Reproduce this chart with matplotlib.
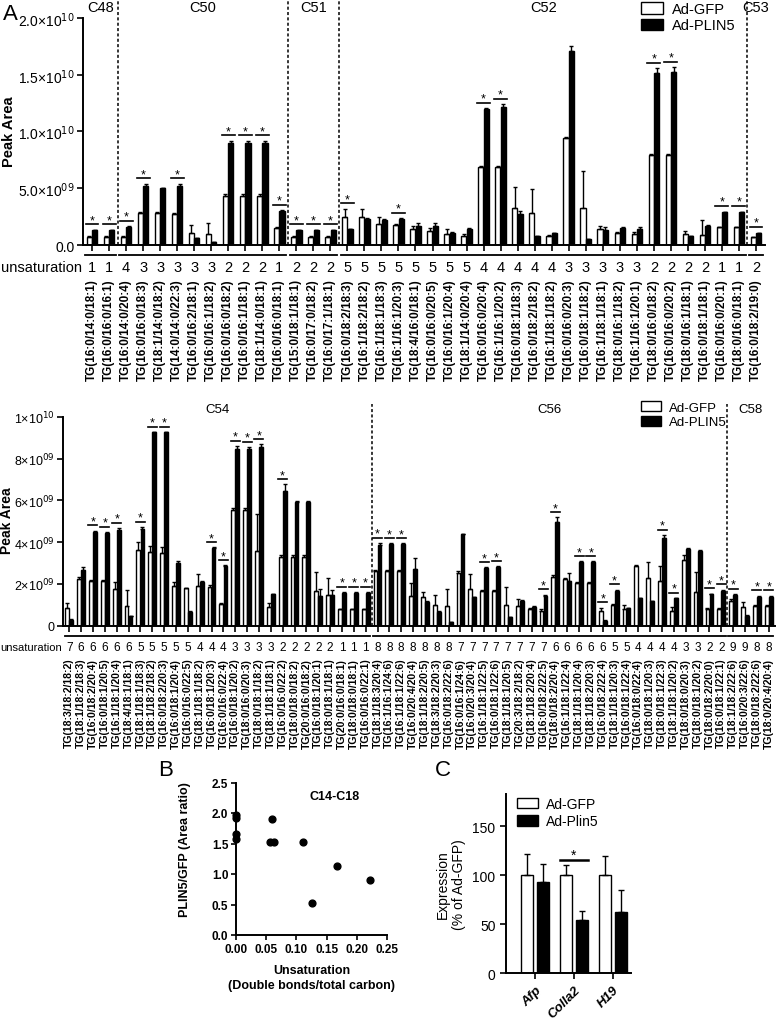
import numpy as np
import matplotlib
matplotlib.use("Agg")
import matplotlib.pyplot as plt
import matplotlib.transforms as mtransforms
from matplotlib.patches import Patch

plt.rcParams['font.family'] = ['Liberation Sans', 'DejaVu Sans']

# ---------------- panel A, upper part (values in 1e9 units) ----------------
top_groups = ["C48", "C50", "C51", "C52", "C53"]
top_sizes = [2, 10, 3, 24, 1]
top_labels = [
    "TG(16:0/14:0/18:1)", "TG(16:0/16:0/16:1)",
    "TG(16:0/14:0/20:4)", "TG(16:0/16:0/18:3)", "TG(18:1/14:0/18:2)", "TG(14:0/14:0/22:3)",
    "TG(16:0/16:2/18:1)", "TG(16:0/16:1/18:2)", "TG(16:0/16:0/18:2)", "TG(16:0/16:1/18:1)",
    "TG(18:1/14:0/18:1)", "TG(16:0/16:0/18:1)",
    "TG(15:0/18:1/18:1)", "TG(16:0/17:0/18:2)", "TG(16:0/17:1/18:1)",
    "TG(16:0/18:2/18:3)", "TG(16:1/18:2/18:2)", "TG(16:1/18:1/18:3)", "TG(16:1/16:1/20:3)",
    "TG(18:4/16:0/18:1)", "TG(16:0/16:0/20:5)", "TG(16:0/16:1/20:4)", "TG(18:1/14:0/20:4)",
    "TG(16:0/16:0/20:4)", "TG(16:1/16:1/20:2)", "TG(16:0/18:1/18:3)", "TG(16:0/18:2/18:2)",
    "TG(16:1/18:1/18:2)", "TG(16:0/16:0/20:3)", "TG(16:0/18:1/18:2)", "TG(16:1/18:1/18:1)",
    "TG(18:0/16:1/18:2)", "TG(16:1/16:1/20:1)", "TG(18:0/16:0/18:2)", "TG(16:0/16:0/20:2)",
    "TG(18:0/16:1/18:1)", "TG(16:0/18:1/18:1)", "TG(16:0/16:0/20:1)", "TG(18:0/16:0/18:1)",
    "TG(16:0/18:2/19:0)"]
top_unsat = [1, 1, 4, 3, 3, 3, 3, 3, 2, 2, 2, 1, 2, 2, 2, 5, 5, 5, 5, 5, 5, 5, 5,
             4, 4, 4, 4, 4, 3, 3, 3, 3, 3, 2, 2, 2, 2, 1, 1, 2]
top_gfp = [0.7, 0.7, 0.7, 2.8, 2.8, 2.7, 1.1, 1.0, 4.35, 4.35, 4.35, 1.5, 0.7, 0.7, 0.7,
           2.5, 2.5, 1.85, 1.75, 1.4, 1.2, 0.95, 0.8, 6.9, 6.9, 3.3, 2.8, 0.75, 9.4, 3.3,
           1.4, 1.1, 1.0, 7.9, 7.9, 1.0, 0.88, 1.55, 1.55, 0.68]
top_gfp_err = [0.05, 0.05, 0.05, 0.1, 0.1, 0.1, 0.7, 0.9, 0.1, 0.1, 0.1, 0.05, 0.05, 0.05, 0.05,
               0.7, 0.7, 0.6, 0.1, 0.3, 0.3, 0.45, 0.2, 0.1, 0.1, 1.8, 2.1, 0.1, 0.1, 3.2,
               0.3, 0.05, 0.15, 0.1, 0.1, 0.2, 1.3, 0.05, 0.05, 0.05]
top_plin = [1.3, 1.3, 1.6, 5.2, 5.0, 5.2, 0.6, 0.25, 9.0, 9.0, 9.0, 3.0, 1.3, 1.3, 1.3,
            1.4, 2.3, 2.2, 2.3, 1.65, 1.7, 1.1, 1.4, 12.0, 12.2, 2.7, 0.75, 1.05, 17.1, 0.5,
            1.35, 1.5, 1.4, 15.15, 15.25, 0.75, 1.7, 2.9, 2.9, 1.05]
top_plin_err = [0.05, 0.05, 0.05, 0.2, 0.05, 0.2, 0.05, 0.05, 0.2, 0.2, 0.2, 0.05, 0.05, 0.05, 0.05,
                0.05, 0.05, 0.1, 0.05, 0.3, 0.2, 0.05, 0.1, 0.05, 0.2, 0.3, 0.05, 0.05, 0.4, 0.05,
                0.2, 0.05, 0.2, 0.4, 0.4, 0.05, 0.05, 0.05, 0.05, 0.05]
top_stars = [0, 1, 2, 3, 5, 8, 9, 10, 11, 12, 13, 14, 15, 18, 23, 24, 33, 34, 37, 38, 39]

# ---------------- panel A, lower part ----------------
bot_groups = ["C54", "C56", "C58"]
bot_sizes = [26, 30, 4]
bot_labels = [
    "TG(18:3/18:2/18:2)", "TG(18:1/18:2/18:3)", "TG(16:0/18:2/20:4)", "TG(16:0/18:1/20:5)",
    "TG(16:1/18:1/20:4)", "TG(18:4/18:1/18:1)", "TG(18:1/18:1/18:3)", "TG(18:1/18:2/18:2)",
    "TG(16:0/18:2/20:3)", "TG(16:0/18:1/20:4)", "TG(16:0/16:0/22:5)", "TG(18:1/18:1/18:2)",
    "TG(16:0/18:1/20:3)", "TG(16:0/16:0/22:4)", "TG(16:0/18:1/20:2)", "TG(18:0/16:0/20:3)",
    "TG(18:0/18:1/18:2)", "TG(18:1/18:1/18:1)", "TG(16:0/16:0/22:2)", "TG(18:0/18:0/18:2)",
    "TG(20:0/16:0/18:2)", "TG(16:0/18:1/20:1)", "TG(18:0/18:1/18:1)", "TG(20:0/16:0/18:1)",
    "TG(18:0/18:0/18:1)", "TG(16:0/16:0/22:1)",
    "TG(18:1/18:3/20:4)", "TG(16:1/16:1/24:6)", "TG(16:1/18:1/22:6)", "TG(16:0/20:4/20:4)",
    "TG(18:1/18:2/20:5)", "TG(18:3/18:2/20:3)", "TG(16:0/18:2/22:6)", "TG(16:0/16:1/24:6)",
    "TG(16:0/20:3/20:4)", "TG(16:1/18:1/22:5)", "TG(16:0/18:1/22:6)", "TG(18:1/18:1/20:5)",
    "TG(20:3/18:2/18:2)", "TG(18:1/18:2/20:4)", "TG(16:0/18:2/22:5)", "TG(18:0/18:2/20:4)",
    "TG(16:1/18:1/22:4)", "TG(18:1/18:1/20:4)", "TG(18:1/18:2/20:3)", "TG(16:0/18:2/22:4)",
    "TG(18:1/18:1/20:3)", "TG(16:0/18:1/22:4)", "TG(16:0/18:0/22:4)", "TG(18:0/18:1/20:3)",
    "TG(18:0/18:1/22:3)", "TG(18:1/18:1/20:2)", "TG(18:0/18:0/20:3)", "TG(18:0/18:1/20:2)",
    "TG(18:0/18:2/20:0)", "TG(16:0/18:1/22:1)",
    "TG(18:1/18:2/22:6)", "TG(16:0/20:3/22:6)", "TG(18:0/18:2/22:6)", "TG(18:0/20:4/20:4)"]
bot_unsat = [7, 6, 6, 6, 6, 6, 5, 5, 5, 5, 5, 4, 4, 4, 3, 3, 3, 3, 2, 2, 2, 2, 2, 1, 1, 1,
             8, 8, 8, 8, 8, 8, 8, 7, 7, 7, 7, 7, 7, 7, 7, 6, 6, 6, 6, 6, 5, 5, 4, 4, 4, 4, 3, 3, 2, 2,
             9, 9, 8, 8]
bot_gfp = [0.84, 2.24, 2.13, 2.12, 1.76, 0.93, 3.64, 3.55, 3.48, 1.89, 1.79, 1.89, 1.86, 1.04,
           5.55, 5.55, 3.56, 0.88, 3.28, 3.28, 3.28, 1.68, 1.47, 0.8, 0.8, 0.8,
           2.64, 2.64, 2.64, 1.44, 1.36, 1.0, 0.93, 2.53, 1.76, 1.65, 1.65, 1.0, 0.93, 0.8, 0.72,
           2.35, 2.24, 2.05, 2.05, 0.72, 1.0, 0.8, 2.85, 2.27, 2.16, 0.69, 3.15, 1.6, 0.8, 0.8,
           1.2, 0.88, 0.96, 0.96]
bot_gfp_err = [0.25, 0.1, 0.05, 0.05, 0.32, 0.77, 0.35, 0.25, 0.3, 0.2, 0.02, 0.6, 0.1, 0.05,
               0.1, 0.1, 1.8, 0.2, 0.1, 0.1, 0.1, 0.87, 0.83, 0.02, 0.02, 0.02,
               0.05, 0.05, 0.05, 0.6, 0.27, 0.47, 0.83, 0.1, 0.72, 0.05, 0.05, 0.84, 0.35, 0.05,
               0.1, 0.1, 0.05, 0.05, 0.05, 0.15, 0.05, 0.2, 0.05, 0.8, 0.72, 0.2, 0.24, 0.95,
               0.05, 0.05, 0.1, 0.25, 0.05, 0.05]
bot_plin = [0.29, 2.67, 4.5, 4.44, 4.58, 0.45, 4.63, 9.26, 9.26, 2.99, 0.68, 2.11, 3.7, 2.88,
            8.46, 8.46, 8.54, 1.52, 6.47, 5.94, 5.94, 1.44, 1.47, 1.57, 1.57, 1.57,
            3.86, 3.9, 3.9, 2.72, 1.15, 0.68, 0.17, 4.39, 1.36, 2.75, 2.8, 0.41, 1.2, 0.91, 1.44,
            4.98, 2.16, 3.04, 3.04, 0.24, 1.68, 0.84, 1.33, 1.17, 4.19, 1.31, 3.67, 3.59, 1.52, 1.68,
            1.47, 0.48, 1.39, 1.39]
bot_plin_err = [0.02, 0.15, 0.05, 0.05, 0.1, 0.02, 0.1, 0.02, 0.02, 0.12, 0.02, 0.05, 0.05, 0.02,
                0.15, 0.1, 0.15, 0.02, 0.3, 0.02, 0.02, 0.32, 0.25, 0.05, 0.05, 0.05,
                0.1, 0.05, 0.05, 0.54, 0.02, 0.02, 0.02, 0.02, 0.02, 0.05, 0.05, 0.02, 0.02, 0.02,
                0.05, 0.21, 0.36, 0.05, 0.05, 0.02, 0.05, 0.02, 0.02, 0.02, 0.15, 0.02, 0.05, 0.05,
                0.02, 0.05, 0.05, 0.02, 0.05, 0.05]
bot_stars = [2, 3, 4, 6, 7, 8, 12, 13, 14, 15, 16, 18, 23, 24, 25, 26, 27, 28, 35, 36,
             40, 41, 43, 44, 45, 46, 50, 51, 54, 55, 56, 58, 59]

# ---------------- panel B ----------------
b_unsat = [0.0, 0.0, 0.0, 0.0, 0.0588, 0.0556, 0.0625, 0.111, 0.125, 0.167, 0.222]
b_ratio = [1.97, 1.92, 1.65, 1.58, 1.90, 1.52, 1.53, 1.52, 0.53, 1.13, 0.90]

# ---------------- panel C ----------------
c_genes = ["Afp", "Colla2", "H19"]
c_gfp = [100, 100, 100]
c_gfp_err = [21, 10.5, 19]
c_plin = [92.5, 54.4, 62]
c_plin_err = [18.5, 9.2, 22.7]

W, H = 777, 1020
fig = plt.figure(figsize=(W / 100, H / 100), dpi=100)


def fx(px):
    return px / W


def fy(py):
    return 1 - py / H


def bar_panel(ax, labels, unsat, gfp, gfp_err, plin, plin_err, stars, groups, sizes,
              width, off, gap, lab_fs, un_fs, pad, un_y, grp_line_y, grp_y, grp_fs, ytick_fs):
    n = len(labels)
    x = np.arange(n)
    g = np.array(gfp) * 1e9
    ge = np.array(gfp_err) * 1e9
    p = np.array(plin) * 1e9
    pe = np.array(plin_err) * 1e9
    ax.bar(x - off, g, width, color='white', edgecolor='black', lw=1.0, zorder=2)
    ax.bar(x + off, p, width, color='black', edgecolor='black', lw=1.0, zorder=2)
    ax.errorbar(x - off, g, yerr=[np.zeros(n), ge], fmt='none', ecolor='black',
                elinewidth=1, capsize=1.5, capthick=1, zorder=3)
    ax.errorbar(x + off, p, yerr=[np.zeros(n), pe], fmt='none', ecolor='black',
                elinewidth=1, capsize=1.5, capthick=1, zorder=3)
    for i in stars:
        top = max(g[i] + ge[i], p[i] + pe[i]) + gap
        ax.plot([i - 0.38, i + 0.38], [top, top], color='black', lw=1.2, zorder=3)
        ax.annotate('*', (i, top), xytext=(0, -1.5), textcoords='offset points',
                    ha='center', va='bottom', fontsize=9)

    tr = mtransforms.blended_transform_factory(ax.transData, ax.transAxes)
    start = 0
    for k, (name, size) in enumerate(zip(groups, sizes)):
        end = start + size - 1
        ax.text((start + end) / 2, grp_y, name, transform=tr, ha='center', va='center',
                fontsize=grp_fs)
        ax.plot([start - 0.4, end + 0.4], [grp_line_y, grp_line_y], transform=tr,
                clip_on=False, color='black', lw=1.3)
        if k < len(groups) - 1:
            ax.axvline(end + 0.5, color='black', lw=1.1, ls=(0, (2, 1.5)), zorder=1)
        start = end + 1

    for i, u in enumerate(unsat):
        ax.text(i, un_y, str(u), transform=tr, ha='center', va='center', fontsize=un_fs)

    ax.set_xticks(x)
    ax.set_xticklabels(labels, rotation=90, fontsize=lab_fs, fontweight='bold')
    ax.tick_params(axis='x', length=4, width=1.2, pad=pad)
    ax.tick_params(axis='y', length=4, width=1.2, labelsize=ytick_fs, pad=2)
    ax.set_xlim(-0.53, n - 0.5 + 0.03)
    ax.spines['top'].set_visible(False)
    ax.spines['right'].set_visible(False)
    ax.spines['left'].set_linewidth(1.4)
    ax.spines['bottom'].set_linewidth(1.4)


# ---- A upper ----
axA1 = fig.add_axes([fx(83), fy(246), fx(765 - 83), 246 / H])
bar_panel(axA1, top_labels, top_unsat, top_gfp, top_gfp_err, top_plin, top_plin_err,
          top_stars, top_groups, top_sizes, width=0.3, off=0.16, gap=0.5e9,
          lab_fs=8.5, un_fs=10.5, pad=20, un_y=-22 / 246, grp_line_y=-10 / 246,
          grp_y=1 - 8 / 246, grp_fs=10.5, ytick_fs=10)
axA1.set_ylim(0, 2.167e10)
axA1.spines['left'].set_bounds(0, 2e10)
axA1.set_yticks([0, 5e9, 1e10, 1.5e10, 2e10])
axA1.set_yticklabels(["0.0", "5.0×10$^{09}$", "1.0×10$^{10}$", "1.5×10$^{10}$", "2.0×10$^{10}$"])
axA1.set_ylabel("Peak Area", fontweight='bold', fontsize=10.5)
axA1.yaxis.set_label_coords(-0.098, 0.463)
axA1.legend(handles=[Patch(facecolor='white', edgecolor='black', label='Ad-GFP'),
                     Patch(facecolor='black', edgecolor='black', label='Ad-PLIN5')],
            loc='upper left', bbox_to_anchor=(fx(641), fy(3)), bbox_transform=fig.transFigure,
            frameon=False, fontsize=10.5, handlelength=1.5, handleheight=0.8,
            labelspacing=0.15, borderpad=0, borderaxespad=0, handletextpad=0.6)
fig.text(fx(82), fy(268), "unsaturation", ha='right', va='center', fontsize=10.5)
fig.text(fx(3), fy(14), "A", fontsize=16, va='center', ha='left')

# ---- A lower ----
axA2 = fig.add_axes([fx(63), fy(626.8), fx(775 - 63), (626.8 - 405) / H])
bar_panel(axA2, bot_labels, bot_unsat, bot_gfp, bot_gfp_err, bot_plin, bot_plin_err,
          bot_stars, bot_groups, bot_sizes, width=0.32, off=0.17, gap=0.25e9,
          lab_fs=7.6, un_fs=8.5, pad=19, un_y=-21.5 / 221.8, grp_line_y=-10.5 / 221.8,
          grp_y=1 - 5 / 221.8, grp_fs=9.5, ytick_fs=9)
axA2.set_ylim(0, 10.61e9)
axA2.spines['left'].set_bounds(0, 1e10)
axA2.set_yticks([0, 2e9, 4e9, 6e9, 8e9, 1e10])
axA2.set_yticklabels(["0", "2×10$^{09}$", "4×10$^{09}$", "6×10$^{09}$", "8×10$^{09}$",
                      "1×10$^{10}$"])
axA2.set_ylabel("Peak Area", fontweight='bold', fontsize=10)
axA2.yaxis.set_label_coords(-0.069, 0.48)
axA2.legend(handles=[Patch(facecolor='white', edgecolor='black', label='Ad-GFP'),
                     Patch(facecolor='black', edgecolor='black', label='Ad-PLIN5')],
            loc='upper left', bbox_to_anchor=(fx(641), fy(402)), bbox_transform=fig.transFigure,
            frameon=False, fontsize=9.5, handlelength=1.5, handleheight=0.8,
            labelspacing=0.15, borderpad=0, borderaxespad=0, handletextpad=0.6)
fig.text(fx(62), fy(648), "unsaturation", ha='right', va='center', fontsize=8)

# ---- B ----
axB = fig.add_axes([fx(236), fy(936), fx(387 - 236), (936 - 783.5) / H])
axB.scatter(b_unsat, b_ratio, s=24, color='black', zorder=3, clip_on=False)
axB.set_xlim(0, 0.25)
axB.set_ylim(0, 2.5)
axB.set_xticks([0, 0.05, 0.10, 0.15, 0.20, 0.25])
axB.set_xticklabels(["0.00", "0.05", "0.10", "0.15", "0.20", "0.25"])
axB.set_yticks([0, 0.5, 1.0, 1.5, 2.0, 2.5])
axB.set_yticklabels(["0.0", "0.5", "1.0", "1.5", "2.0", "2.5"])
for lab in axB.get_xticklabels() + axB.get_yticklabels():
    lab.set_fontweight('bold')
    lab.set_fontsize(8.5)
axB.tick_params(length=3.5, width=1.2, pad=2)
for s in ['top', 'right']:
    axB.spines[s].set_visible(False)
for s in ['left', 'bottom']:
    axB.spines[s].set_linewidth(1.4)
axB.set_ylabel("PLIN5/GFP (Area ratio)", fontweight='bold', fontsize=9)
axB.yaxis.set_label_coords(-0.30, 0.57)
axB.set_xlabel("Unsaturation\n(Double bonds/total carbon)", fontweight='bold', fontsize=9,
               va='top', linespacing=1.3)
axB.xaxis.set_label_coords(0.5, -0.19)
axB.text(0.164, 2.28, "C14-C18", ha='center', va='center', fontweight='bold', fontsize=9)
fig.text(fx(166), fy(771), "B", fontsize=16, ha='center', va='center')

# ---- C ----
axC = fig.add_axes([fx(506), fy(974), fx(631 - 506), (974 - 795) / H])
cx = np.arange(len(c_genes))
axC.bar(cx - 0.2, c_gfp, 0.32, color='white', edgecolor='black', lw=1.0, zorder=2)
axC.bar(cx + 0.2, c_plin, 0.32, color='black', edgecolor='black', lw=1.0, zorder=2)
axC.errorbar(cx - 0.2, c_gfp, yerr=[np.zeros(3), c_gfp_err], fmt='none', ecolor='black',
             elinewidth=1, capsize=2, capthick=1, zorder=3)
axC.errorbar(cx + 0.2, c_plin, yerr=[np.zeros(3), c_plin_err], fmt='none', ecolor='black',
             elinewidth=1, capsize=2, capthick=1, zorder=3)
axC.plot([1 - 0.36, 1 + 0.36], [115.6, 115.6], color='black', lw=1.8)
axC.annotate('*', (1, 115.6), xytext=(0, -1.5), textcoords='offset points',
             ha='center', va='bottom', fontsize=10)
axC.set_xlim(-0.744, 2.462)
axC.set_ylim(0, 182.7)
axC.set_yticks([0, 50, 100, 150])
axC.set_xticks(cx)
axC.set_xticklabels(c_genes, rotation=45, ha='right', rotation_mode='anchor',
                    fontstyle='italic', fontweight='bold', fontsize=9.5)
axC.tick_params(length=4, width=1.2, labelsize=10)
for lab in axC.get_xticklabels():
    lab.set_fontsize(9.5)
for s in ['top', 'right']:
    axC.spines[s].set_visible(False)
for s in ['left', 'bottom']:
    axC.spines[s].set_linewidth(1.4)
axC.set_ylabel("Expression\n(% of Ad-GFP)", fontsize=10)
axC.yaxis.set_label_coords(-0.32, 0.5)
axC.legend(handles=[Patch(facecolor='white', edgecolor='black', label='Ad-GFP'),
                    Patch(facecolor='black', edgecolor='black', label='Ad-Plin5')],
           loc='upper left', bbox_to_anchor=(fx(517), fy(798)), bbox_transform=fig.transFigure,
           frameon=False, fontsize=10, handlelength=1.5, handleheight=0.8,
           labelspacing=0.25, borderpad=0, borderaxespad=0, handletextpad=0.6)
fig.text(fx(443), fy(771), "C", fontsize=16, ha='center', va='center')

fig.savefig("out.png", dpi=100, facecolor='white')
